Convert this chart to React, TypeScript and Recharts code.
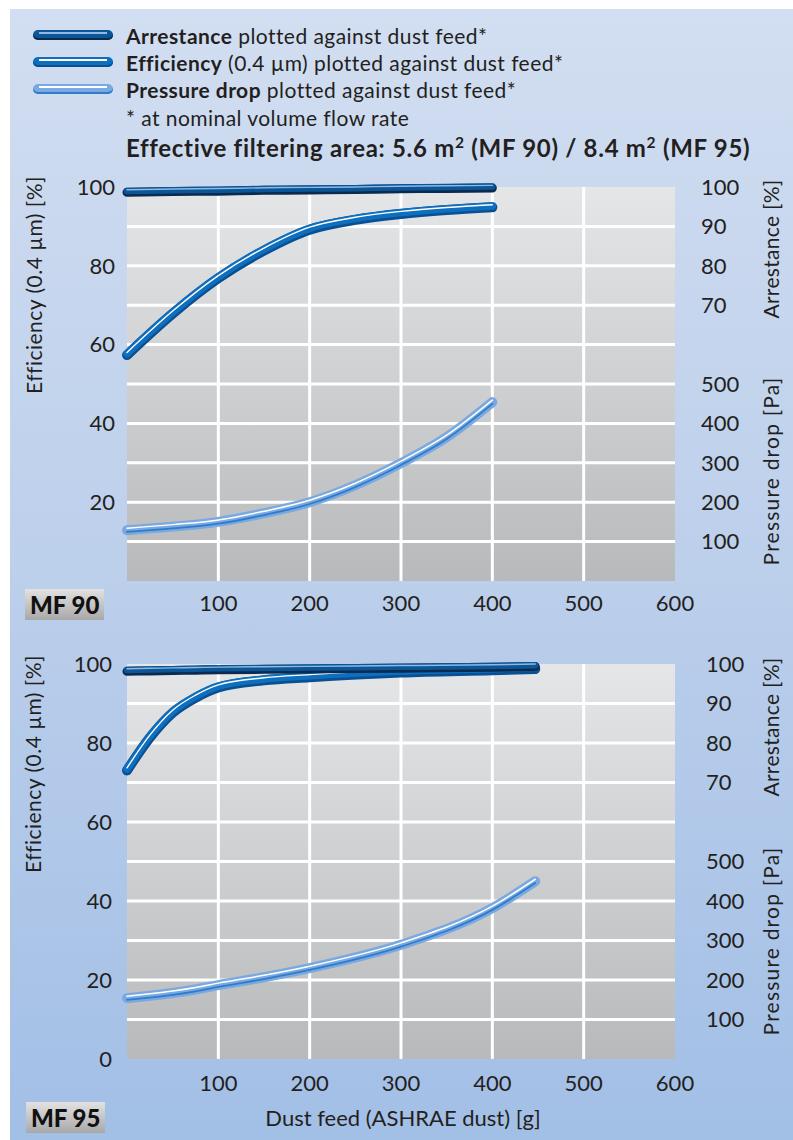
import React from 'react';
import { LineChart, Line, XAxis, YAxis, CartesianGrid } from 'recharts';

// dust feed (ASHRAE dust) [g]
const mf90Dust = [0, 50, 100, 150, 200, 250, 300, 350, 400];
const mf90Arrestance = [98.8, 99.0, 99.1, 99.3, 99.4, 99.5, 99.7, 99.8, 99.9];
const mf90Efficiency = [57.5, 68, 77, 84, 89.3, 91.8, 93.3, 94.3, 95];
const mf90Pressure = [129, 138, 150, 172, 200, 243, 299, 365, 454];

const mf95Dust = [0, 25, 50, 75, 100, 150, 200, 300, 400, 447];
const mf95Arrestance = [98.3, 98.4, 98.5, 98.6, 98.7, 98.8, 98.9, 99.1, 99.3, 99.5];
const mf95Efficiency = [73.2, 81.5, 87.8, 91.6, 94.2, 96, 96.8, 98, 98.6, 98.9];
const mf95Pressure = [154, 160, 167, 176, 187, 207, 230, 289, 382, 450];

const xTicks = [100, 200, 300, 400, 500, 600];
const effTicksTop = [20, 40, 60, 80, 100];
const effTicksBottom = [0, 20, 40, 60, 80, 100];
// right column: arrestance [%] 70..100 above, pressure drop [Pa] 100..500 below,
// both sharing the same height scale (100 Pa = 10 %)
const arrTicks = [70, 80, 90, 100];
const paTicks = [100, 200, 300, 400, 500];
const gridY = [10, 20, 30, 40, 50, 60, 70, 80, 90];
const gridX = [100, 200, 300, 400, 500];

const rightTicks = [...paTicks.map((p) => p / 10), ...arrTicks];
const rightLabel = (v: number) => (v <= 50 ? String(v * 10) : String(v));

const toRows = (dust: number[], arr: number[], eff: number[], pa: number[]) =>
  dust.map((d, i) => ({ dust: d, arr: arr[i], eff: eff[i], pa: pa[i] }));

const rows90 = toRows(mf90Dust, mf90Arrestance, mf90Efficiency, mf90Pressure);
const rows95 = toRows(mf95Dust, mf95Arrestance, mf95Efficiency, mf95Pressure);

const FONT = 'Lato, "Noto Sans", sans-serif';
const INK = '#231f20';

// tube look: a darker edge, the main colour and a thin highlight
const arrLayers = [
  { color: '#0b2a4e', w: 9, cls: 'dn' },
  { color: '#0b5697', w: 6.5, cls: 'up' },
  { color: '#8fb8e2', w: 1.4, cls: 'up2' },
];
const effLayers = [
  { color: '#0a4f92', w: 10, cls: 'dn' },
  { color: '#0f6fbf', w: 7.5, cls: 'up' },
  { color: '#ffffff', w: 1.4, cls: 'up2' },
];
const paLayers = [
  { color: '#79a9e0', w: 10, cls: '' },
  { color: '#2f7ccc', w: 1.8, cls: 'dn2' },
  { color: '#ffffff', w: 1.5, cls: 'up2' },
];

const tube = (key: string, axis: string, layers: typeof arrLayers) =>
  layers.map((l, i) => (
    <Line
      key={key + i}
      type="monotone"
      dataKey={key}
      yAxisId={axis}
      stroke={l.color}
      strokeWidth={l.w}
      className={l.cls}
      strokeLinecap="round"
      dot={false}
      activeDot={false}
      isAnimationActive={false}
    />
  ));

const tick = { fill: INK, fontSize: 22, fontFamily: FONT };

interface PanelProps {
  id: string;
  data: any[];
  top: number;
  height: number;
  marginTop: number;
  xHeight: number;
  xTickMargin: number;
  leftTicks: number[];
  leftMargin: number;
  rightMargin: number;
}

const Panel = ({ id, data, top, height, marginTop, xHeight, xTickMargin, leftTicks, leftMargin, rightMargin }: PanelProps) => (
  <div style={{ position: 'absolute', left: 0, top }}>
    <LineChart width={793} height={height} data={data} margin={{ top: marginTop, right: 0, left: 67, bottom: 0 }}>
      <defs>
        <linearGradient id={id} x1="0" y1="0" x2="0" y2="1">
          <stop offset="0%" stopColor="#e5e6e8" />
          <stop offset="100%" stopColor="#b8b9bb" />
        </linearGradient>
      </defs>
      <CartesianGrid
        yAxisId="eff"
        fill={`url(#${id})`}
        fillOpacity={1}
        stroke="#ffffff"
        strokeWidth={3}
        horizontalValues={gridY}
        verticalValues={gridX}
      />
      <XAxis
        dataKey="dust"
        type="number"
        domain={[0, 600]}
        ticks={xTicks}
        axisLine={false}
        tickLine={false}
        tickSize={0}
        tickMargin={xTickMargin}
        height={xHeight}
        tick={tick}
        interval={0}
      />
      <YAxis
        yAxisId="eff"
        orientation="left"
        domain={[0, 100]}
        ticks={leftTicks}
        width={60}
        axisLine={false}
        tickLine={false}
        tickSize={0}
        tickMargin={leftMargin}
        tick={tick}
        interval={0}
      />
      <YAxis
        yAxisId="arr"
        orientation="right"
        domain={[0, 100]}
        ticks={rightTicks}
        tickFormatter={rightLabel}
        width={118}
        axisLine={false}
        tickLine={false}
        tickSize={0}
        tickMargin={rightMargin}
        tick={{ ...tick, textAnchor: 'start' }}
        interval={0}
      />
      <YAxis yAxisId="pa" orientation="right" domain={[0, 1000]} hide />
      {tube('pa', 'pa', paLayers)}
      {tube('eff', 'eff', effLayers)}
      {tube('arr', 'arr', arrLayers)}
    </LineChart>
  </div>
);

const VLabel = ({ x, y, text, spacing = 0 }: { x: number; y: number; text: React.ReactNode; spacing?: number }) => (
  <div
    style={{
      position: 'absolute',
      left: x,
      top: y,
      transform: 'translate(-50%, -50%) rotate(-90deg)',
      whiteSpace: 'nowrap',
      fontSize: 21,
      letterSpacing: spacing,
      color: INK,
    }}
  >
    {text}
  </div>
);

const Tag = ({ x, y, text }: { x: number; y: number; text: string }) => (
  <div
    style={{
      position: 'absolute',
      left: x,
      top: y,
      width: 79,
      height: 31,
      background: 'linear-gradient(#e2e2e2, #a8a8a8)',
      fontWeight: 900,
      fontSize: 24,
      lineHeight: '31px',
      paddingLeft: 5,
      boxSizing: 'border-box',
      color: '#111',
    }}
  >
    {text}
  </div>
);

const Swatch = ({ y, main, edge, light }: { y: number; main: string; edge: string; light: string }) => (
  <div
    style={{
      position: 'absolute',
      left: 33,
      top: y - 5,
      width: 80,
      height: 10,
      borderRadius: 5,
      background: main,
      boxShadow: `inset 0 -2px 0 ${edge}`,
    }}
  >
    <div style={{ position: 'absolute', left: 6, right: 6, top: 2, height: 1.5, background: light }} />
  </div>
);

const LegendLine = ({ y, children, size = 21, spacing = 0.45 }: { y: number; children: React.ReactNode; size?: number; spacing?: number }) => (
  <div
    style={{
      position: 'absolute',
      left: 126,
      top: y,
      transform: 'translateY(-50%)',
      whiteSpace: 'nowrap',
      fontSize: size,
      letterSpacing: spacing,
      color: INK,
    }}
  >
    {children}
  </div>
);

export default function App() {
  return (
    <div style={{ position: 'relative', width: 793, height: 1140, fontFamily: FONT, background: '#fff', overflow: 'hidden' }}>
      <style>{`
        body { margin: 0; }
        .up { transform: translateY(-0.8px); }
        .up2 { transform: translateY(-2px); }
        .dn { transform: translateY(0.6px); }
        .dn2 { transform: translateY(1.8px); }
      `}</style>
      <div
        style={{
          position: 'absolute',
          left: 10,
          top: 9,
          right: 0,
          bottom: 0,
          background: 'linear-gradient(#d2def1 0%, #bccfeb 50%, #a2bfe6 100%)',
        }}
      />

      <Swatch y={35} main="#0b5697" edge="#0b2a4e" light="#8fb8e2" />
      <Swatch y={62} main="#0f6fbf" edge="#0a4f92" light="#ffffff" />
      <Swatch y={89} main="#79a9e0" edge="#2f7ccc" light="#ffffff" />
      <LegendLine y={35}>
        <b>Arrestance</b> plotted against dust feed*
      </LegendLine>
      <LegendLine y={62}>
        <b>Efficiency</b> (0.4 µm) plotted against dust feed*
      </LegendLine>
      <LegendLine y={89}>
        <b>Pressure drop</b> plotted against dust feed*
      </LegendLine>
      <LegendLine y={117}>* at nominal volume flow rate</LegendLine>
      <LegendLine y={147} size={24} spacing={0.7}>
        <b>
          Effective filtering area: 5.6 m<sup style={{ fontSize: '0.65em' }}>2</sup> (MF 90) / 8.4 m
          <sup style={{ fontSize: '0.65em' }}>2</sup> (MF 95)
        </b>
      </LegendLine>

      <Panel
        id="bg90"
        data={rows90}
        top={0}
        height={640}
        marginTop={187}
        xHeight={59}
        xTickMargin={14}
        leftTicks={effTicksTop}
        leftMargin={12}
        rightMargin={26}
      />
      <Panel
        id="bg95"
        data={rows95}
        top={640}
        height={500}
        marginTop={24}
        xHeight={81}
        xTickMargin={16}
        leftTicks={effTicksBottom}
        leftMargin={15}
        rightMargin={31}
      />

      <VLabel x={33} y={285} text="Efficiency (0.4 µm) [%]" spacing={0.5} />
      <VLabel x={770} y={249} text="Arrestance [%]" spacing={0.3} />
      <VLabel x={770} y={471} text="Pressure drop [Pa]" spacing={1.2} />
      <VLabel x={32} y={764} text="Efficiency (0.4 µm) [%]" spacing={0.5} />
      <VLabel x={770} y={727} text="Arrestance [%]" spacing={0.3} />
      <VLabel x={770} y={941} text="Pressure drop [Pa]" spacing={1.2} />

      <div style={{ position: 'absolute', left: 403, top: 1117, transform: 'translate(-50%, -50%)', fontSize: 22, color: INK, whiteSpace: 'nowrap' }}>
        Dust feed (ASHRAE dust) [g]
      </div>

      <Tag x={25} y={589} text="MF 90" />
      <Tag x={26} y={1102} text="MF 95" />
    </div>
  );
}
